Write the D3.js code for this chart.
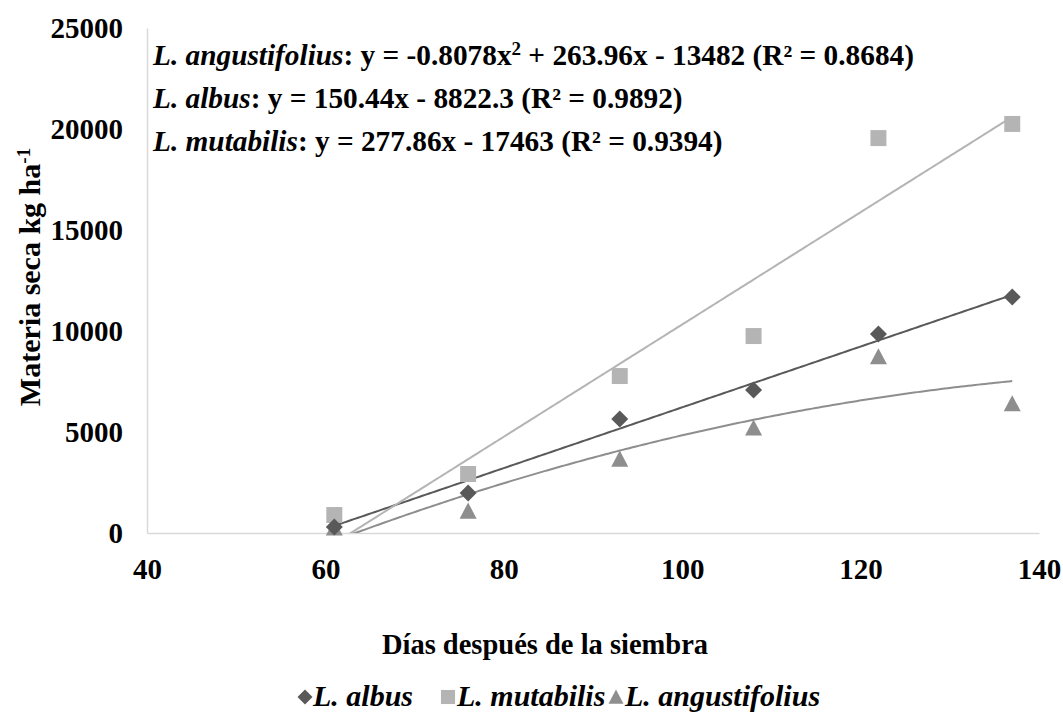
<!DOCTYPE html>
<html>
<head>
<meta charset="utf-8">
<script src="https://cdn.jsdelivr.net/npm/d3@7"></script>
<style>
  html, body { margin: 0; padding: 0; background: #fff; }
  svg text { font-family: "Liberation Serif", "Times New Roman", serif; font-weight: bold; fill: #000; }
</style>
</head>
<body>
<svg id="chart" width="1063" height="716"></svg>
<script>
// Days after sowing at each harvest
const days = [61, 76, 93, 108, 122, 137];
// Dry matter (kg/ha) per species
const albus = [300, 1980, 5640, 7080, 9850, 11680];
const mutabilis = [890, 2920, 7770, 9750, 19550, 20250];
const angustifolius = [250, 1090, 3660, 5200, 8730, 6400];
// Axis ticks
const xTicks = [40, 60, 80, 100, 120, 140];
const yTicks = [0, 5000, 10000, 15000, 20000, 25000];
// Fitted trend coefficients [c2, c1, c0]
const fitAlbus = [0, 150.44, -8822.3];
const fitMutabilis = [0, 277.86, -17463];
const fitAngustifolius = [-0.8078, 263.96, -13482];

const svg = d3.select("#chart");
const x = d3.scaleLinear().domain([40, 140]).range([147, 1039]);
const y = d3.scaleLinear().domain([0, 25000]).range([533, 28]);

const series = [
  { name: "L. albus", values: albus, fit: fitAlbus, color: "#595959", line: "#595959", shape: "diamond" },
  { name: "L. mutabilis", values: mutabilis, fit: fitMutabilis, color: "#b4b4b4", line: "#b4b4b4", shape: "square" },
  { name: "L. angustifolius", values: angustifolius, fit: fitAngustifolius, color: "#8e8e8e", line: "#8e8e8e", shape: "triangle" }
];

// Axes: light gray lines, no tick marks
const axisColor = "#d9d9d9";
const yAxis = svg.append("g").attr("transform", `translate(${x(40)},0)`)
  .call(d3.axisLeft(y).tickValues(yTicks).tickSize(0).tickPadding(24).tickFormat(d3.format("d")));
yAxis.select(".domain").attr("stroke", axisColor).attr("stroke-width", 1.5);
yAxis.selectAll("text").attr("font-size", 29).attr("fill", "#000");

const xAxis = svg.append("g").attr("transform", `translate(0,${y(0)})`)
  .call(d3.axisBottom(x).tickValues(xTicks).tickSize(0).tickPadding(25).tickFormat(d3.format("d")));
xAxis.select(".domain").attr("stroke", axisColor).attr("stroke-width", 1.5);
xAxis.selectAll("text").attr("font-size", 29).attr("fill", "#000");
yAxis.select(".domain").raise();

// Clip trend lines to the plot area
svg.append("clipPath").attr("id", "plotClip")
  .append("rect").attr("x", x(40)).attr("y", y(25000)).attr("width", x(140) - x(40)).attr("height", y(0) - y(25000));

const line = d3.line().x(d => x(d[0])).y(d => y(d[1]));
series.forEach(s => {
  const [a, b, c] = s.fit;
  const x0 = d3.min(days), x1 = d3.max(days);
  const pts = d3.range(0, 201).map(i => {
    const t = x0 + (x1 - x0) * i / 200;
    return [t, a * t * t + b * t + c];
  });
  svg.append("path").datum(pts)
    .attr("d", line)
    .attr("fill", "none")
    .attr("stroke", s.line)
    .attr("stroke-width", 2)
    .attr("clip-path", "url(#plotClip)");
});

// Marker shapes
function markerPath(shape, r) {
  if (shape === "diamond") return `M0,${-r}L${r},0L0,${r}L${-r},0Z`;
  if (shape === "square") return `M${-r * 0.94},${-r * 0.94}H${r * 0.94}V${r * 0.94}H${-r * 0.94}Z`;
  return `M0,${-r}L${r},${r * 0.9}L${-r},${r * 0.9}Z`;
}

// Draw markers: mutabilis first, then angustifolius, then albus on top
[series[1], series[2], series[0]].forEach(s => {
  svg.append("g").selectAll("path")
    .data(days.map((d, i) => [d, s.values[i]]))
    .join("path")
    .attr("transform", d => `translate(${x(d[0])},${y(d[1])})`)
    .attr("d", markerPath(s.shape, 8.5))
    .attr("fill", s.color);
});

// Trend equations
const eqX = 153;
function eq(yPos, species, parts) {
  const t = svg.append("text").attr("x", eqX).attr("y", yPos).attr("font-size", 29.3);
  t.append("tspan").attr("font-style", "italic").text(species);
  parts.forEach(p => {
    if (p.sup) t.append("tspan").attr("baseline-shift", "super").attr("font-size", 19).text(p.sup);
    else t.append("tspan").text(p.t);
  });
}
eq(65, "L. angustifolius", [{ t: ": y = -0.8078x" }, { sup: "2" }, { t: " + 263.96x - 13482 (R² = 0.8684)" }]);
eq(108, "L. albus", [{ t: ": y = 150.44x - 8822.3 (R² = 0.9892)" }]);
eq(151, "L. mutabilis", [{ t: ": y = 277.86x - 17463 (R² = 0.9394)" }]);

// Axis titles
const yTitle = svg.append("text")
  .attr("transform", `translate(40,277) rotate(-90)`)
  .attr("text-anchor", "middle").attr("font-size", 30);
yTitle.append("tspan").text("Materia seca kg ha");
yTitle.append("tspan").attr("baseline-shift", "super").attr("font-size", 19).text("-1");

svg.append("text").attr("x", 545).attr("y", 654).attr("text-anchor", "middle")
  .attr("font-size", 28.5).text("Días después de la siembra");

// Legend
const legendItems = [
  { s: series[0], mx: 305, tx: 313 },
  { s: series[1], mx: 448, tx: 457 },
  { s: series[2], mx: 616, tx: 625 }
];
legendItems.forEach(li => {
  svg.append("path").attr("transform", `translate(${li.mx},697)`)
    .attr("d", markerPath(li.s.shape, 7.5)).attr("fill", li.s.color);
  svg.append("text").attr("x", li.tx).attr("y", 706).attr("font-size", 30)
    .attr("font-style", "italic").text(li.s.name);
});
</script>
</body>
</html>
